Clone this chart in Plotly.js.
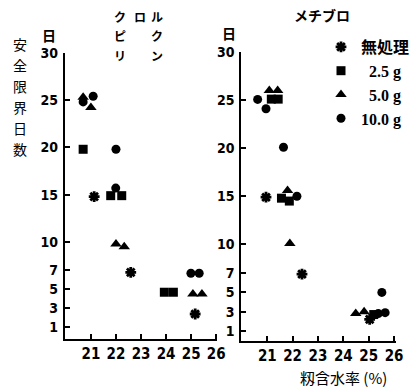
<!DOCTYPE html>
<html>
<head>
<meta charset="utf-8">
<script src="https://cdn.plot.ly/plotly-3.0.1.min.js"></script>
<style>html,body{margin:0;padding:0;background:#fff;}#chart{width:415px;height:387px;}</style>
</head>
<body>
<div id="chart"></div>
<script>
// ---- data ----
const seriesNames = ["無処理", "\u20072.5 g", "\u20075.0 g", "10.0 g"];
const yTickVals = [1, 3, 5, 7, 10, 15, 20, 25, 30];
const xTickVals = [21, 22, 23, 24, 25, 26];

// クロルピクリン panel
const chlorNoneX = [21.13, 22.59, 25.16];
const chlorNoneY = [14.8, 6.8, 2.4];
const chlor25X = [20.69, 21.79, 22.23, 23.93, 24.29];
const chlor25Y = [19.8, 14.9, 14.9, 4.7, 4.7];
const chlor50X = [21.0, 20.69, 22.0, 22.33, 25.07, 25.43];
const chlor50Y = [24.2, 25.3, 9.8, 9.5, 4.5, 4.5];
const chlor100X = [20.69, 21.09, 21.99, 22.0, 24.99, 25.32];
const chlor100Y = [24.8, 25.4, 15.7, 19.8, 6.7, 6.7];

// メチブロ panel
const methNoneX = [20.95, 22.37, 25.04];
const methNoneY = [14.9, 6.9, 2.2];
const meth25X = [21.16, 21.43, 21.56, 21.87, 25.2];
const meth25Y = [25.1, 25.1, 14.8, 14.5, 2.7];
const meth50X = [21.08, 21.41, 21.8, 21.89, 24.49, 24.82];
const meth50Y = [26.0, 26.0, 15.6, 10.1, 2.8, 3.0];
const meth100X = [20.62, 20.95, 21.64, 22.17, 25.52, 25.38, 25.65];
const meth100Y = [25.07, 24.1, 20.1, 15.0, 5.0, 2.8, 2.9];

const chlorTitle = "クロルピクリン";
const methTitle = "メチブロ";
const yTitle = "安全限界日数";
const xTitle = "籾含水率 (%)";
const unitLabel = "日";

// ---- styles ----
const symbols = ["asterisk", "square", "triangle-up", "circle"];
const sizes = [9, 9, 10, 9];
function mk(i) {
  return {
    symbol: symbols[i], size: sizes[i], color: "#000",
    line: {color: "#000", width: i === 0 ? 2.8 : 0}
  };
}

const panels = [
  {xs: [chlorNoneX, chlor25X, chlor50X, chlor100X], ys: [chlorNoneY, chlor25Y, chlor50Y, chlor100Y], xa: "x", ya: "y"},
  {xs: [methNoneX, meth25X, meth50X, meth100X], ys: [methNoneY, meth25Y, meth50Y, meth100Y], xa: "x2", ya: "y2"}
];
const traces = [];
panels.forEach((p, pi) => {
  for (let i = 0; i < 4; i++) {
    traces.push({
      type: "scatter", mode: "markers",
      x: p.xs[i], y: p.ys[i], xaxis: p.xa, yaxis: p.ya,
      name: seriesNames[i], legendgroup: "g" + i, showlegend: pi === 0,
      marker: mk(i), cliponaxis: false, hoverinfo: "x+y"
    });
  }
});

const tickFont = {family: "Liberation Sans Narrow, DejaVu Sans Condensed, Liberation Sans, sans-serif", size: 15, color: "#000", weight: "bold"};
function xAxis(domain, range, anchor) {
  return {
    domain: domain, range: range, anchor: anchor,
    tickmode: "array", tickvals: xTickVals, ticktext: xTickVals.map(String),
    ticks: "inside", ticklen: 5, tickwidth: 2, tickcolor: "#000",
    showline: true, linecolor: "#000", linewidth: 2, showgrid: false, zeroline: false,
    tickfont: tickFont, fixedrange: true
  };
}
function yAxis(domain, range, anchor) {
  return {
    domain: domain, range: range, anchor: anchor,
    tickmode: "array", tickvals: yTickVals, ticktext: yTickVals.map(String),
    ticks: "inside", ticklen: 5, tickwidth: 2, tickcolor: "#000",
    showline: true, linecolor: "#000", linewidth: 2, showgrid: false, zeroline: false,
    tickfont: Object.assign({}, tickFont, {size: 14}), ticklabelstandoff: 2, fixedrange: true
  };
}

const W = 415, H = 387;
const px = v => v / W, py = v => 1 - v / H;
const cjk = "Noto Sans CJK JP, sans-serif";

const annotations = [];
// vertical y title, one character per row
const yTitleRows = [44, 65, 86, 107, 128, 149];
yTitle.split("").forEach((c, i) => {
  annotations.push({xref: "paper", yref: "paper", x: px(20), y: py(yTitleRows[i]), xanchor: "center", yanchor: "middle",
    text: c, showarrow: false, borderpad: 0, font: {family: cjk, size: 14, color: "#000"}});
});
// unit labels
annotations.push({xref: "paper", yref: "paper", x: px(49), y: py(35), xanchor: "center", yanchor: "middle",
  text: unitLabel, showarrow: false, font: {family: cjk, size: 14, color: "#000", weight: "bold"}});
annotations.push({xref: "paper", yref: "paper", x: px(230), y: py(33), xanchor: "center", yanchor: "middle",
  text: unitLabel, showarrow: false, font: {family: cjk, size: 14, color: "#000", weight: "bold"}});
// クロルピクリン arranged in three rows
const chlorPos = [[120, 16], [140, 16], [157, 16], [120, 36], [157, 36], [120, 56], [157, 56]];
chlorTitle.split("").forEach((c, i) => {
  annotations.push({xref: "paper", yref: "paper", x: px(chlorPos[i][0]), y: py(chlorPos[i][1]),
    xanchor: "center", yanchor: "middle", text: c, showarrow: false,
    font: {family: cjk, size: 12, color: "#000", weight: "bold"}});
});
annotations.push({xref: "paper", yref: "paper", x: px(323), y: py(15), xanchor: "center", yanchor: "middle",
  text: methTitle, showarrow: false, font: {family: cjk, size: 14, color: "#000", weight: "bold"}});
annotations.push({xref: "paper", yref: "paper", x: px(344), y: py(377), xanchor: "center", yanchor: "middle",
  text: xTitle, showarrow: false, font: {family: cjk, size: 15, color: "#000"}});

const layout = {
  width: W, height: H, autosize: false,
  margin: {l: 0, r: 0, t: 0, b: 0},
  paper_bgcolor: "#fff", plot_bgcolor: "#fff",
  xaxis: xAxis([px(65), px(218)], [19.96, 26.05], "y"),
  yaxis: yAxis([py(339), py(52.7)], [-0.24, 30], "x"),
  xaxis2: xAxis([px(242), px(397)], [19.98, 26.08], "y2"),
  yaxis2: yAxis([py(341), py(52)], [-0.05, 30], "x2"),
  showlegend: true,
  legend: {x: px(322), y: py(30), xanchor: "left", yanchor: "top", bgcolor: "rgba(0,0,0,0)",
    font: {family: "Liberation Serif, Noto Sans CJK JP, serif", size: 16, color: "#000", weight: "bold"},
    itemwidth: 30, tracegroupgap: 0},
  annotations: annotations
};

Plotly.newPlot("chart", traces, layout, {displayModeBar: false, staticPlot: true});
</script>
</body>
</html>
